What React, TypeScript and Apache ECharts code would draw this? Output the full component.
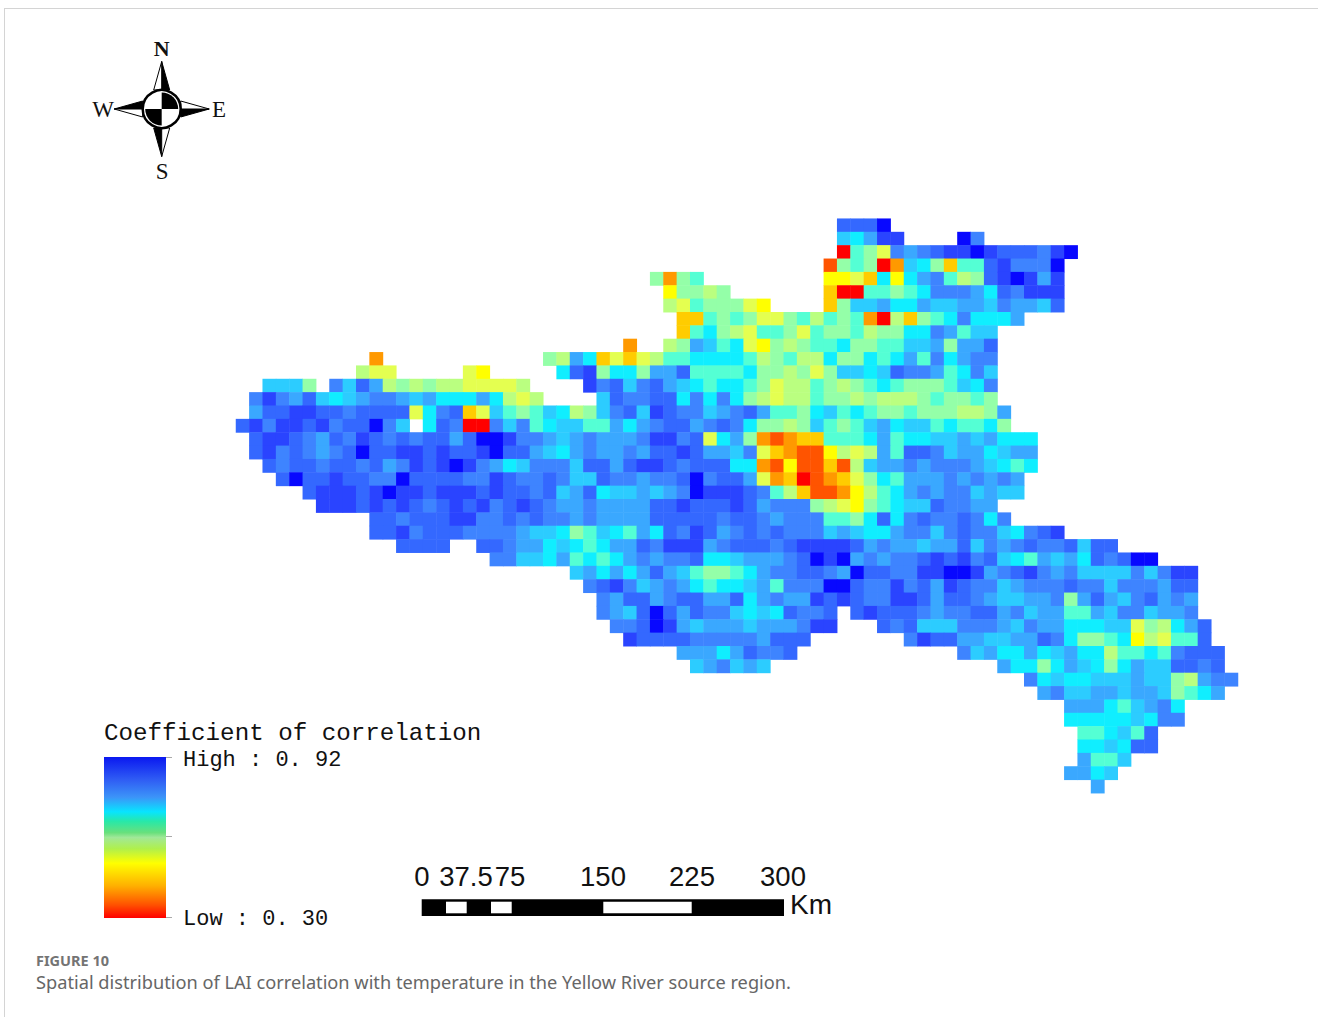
import React, { useEffect, useRef } from "react";
import * as echarts from "echarts";

// Cell codes run from the highest correlation (A) to the lowest (P); "." is no data.
const levelCodes = "ABCDEFGHIJKLMNOP";
const levelValues = [0.92, 0.879, 0.837, 0.796, 0.755, 0.713, 0.672, 0.631, 0.589, 0.548, 0.507, 0.465, 0.424, 0.383, 0.341, 0.3];
const cellColors = ["#ff0000", "#ff5500", "#ff9900", "#ffcc00", "#ffff00", "#e4ff50", "#baff80", "#94ffa8", "#55ffd4", "#10eeff", "#2cccff", "#3aa8ff", "#3e84ff", "#3468ff", "#2a44ff", "#0808ff"];

const rowStart = [45, 45, 45, 44, 31, 32, 32, 33, 33, 29, 10, 9, 2, 1, 1, 0, 1, 1, 2, 3, 5, 6, 10, 10, 12, 19, 25, 26, 27, 27, 28, 29, 33, 34, 59, 60, 62, 62, 63, 63, 63, 62, 64];
const rowCells = [
  "CCCA",
  "FGEBB....AD",
  "PHIKDEDCBBABCCCDBA",
  "OIHIPNFGIMHHCBDDDA",
  "INIH.........LLKMGLGEDHJICBABEB",
  "LIIJI.......MPPHHIHGDDDEGCDBBB",
  "JKHIIIKL....MIFFEGGEFFEEFDEEFC",
  "MMHIHIKKIHJHIHNPJMIHGDGGGE",
  "MHGIJKHHIKHIIHJIIGGDEHFF",
  "N..JIEFHGKLIJIHHGIIHHFFEIEEC",
  "N............IJEGMKMKJHHGGGGHJIHJJGIIGHGEHDGEDD",
  "JKK.....KL.....GCBIGGIEECHHHHGIIJIKIFFGFCDDEHGDF",
  "FFFI.DFCEJIJIJJKKKKJ....BDCFDCEFGHGGHIKJJHIJIHGHIIIHFGD",
  "DBDECFGFEDDEFEGGGEGJKJ....FCDDCCGDGDGIJKJJHIIJIJJJIHIIHI",
  "ECCBBCCDCCCCKGDCMKFHIHFGJIFDCFBCDDFEDCEHHIGFHGHIIHIIIJJIE",
  "CBDBBCBDCCADF.GCDPPDFDHGFFHHEGEDCCEDCDGIIJIFHIHFEGFFHGHHGI",
  "CBBCDECDBCDCDCCECAABDDEFEDEEEDBBDCKGEINONMMHHHGEHGGFFEFEGGG",
  "CBDCDEDCACCBBCBCCBACCEFGEDEEDECCBCEEFDKMNOOLJKJEHCCDFEEGFEE",
  "CDCCDCCDCEDBCBABDEGFDDDFCCECBBCDCCCGGNOLOOMOJFEEDEDDDEFGHG",
  "CACCBCCDDACCCCDDBCDDCDFFCDDEDDCADCCEKNMPONMKIGHEEEDEDEDE",
  "CBBBCBABBCBBBCBCCDCFECGFFEFEDABBBCDHJMOONLJHGEDEDDFEFF",
  "BBBCBCBCDCBCBDCBCDEEDEEEECCBCCCBCEDDDIJKLIHGFFCDDEE",
  "CCDCCCBBDDCDCDDEDEEEECCCCCDCCDEDDDHHIGCGDCDDCDGD",
  "CCBDCCCDDDDEFFGIHFGHEGCDBCEDCDCDDDFEFGGEDDFDCDDFGDCB",
  "CCCC..CCDEEGFGHGEECDBBBEDCCCDCBBBBCEDEEFEECFDEDCDDCFCC",
  "DDFFGEHGHGEDEDDCGGFEEEDCABAEDEDDCBCBDCFGHEFEGCDCAA",
  "FEGEGECEFHIIHGEDDCCDEACCDDBBAABEDCBDEDFFFFDFDBB",
  "DCBDFEDEGHGGFEHDDDAACDDBDCEBCDDFEDDDCDDFDDDECC",
  "DECCEDCCEECGEDEEBCBCDDBBCECCDEFFEEDIECEFDCEDE",
  "DEFCACECDDFGFGCDDC.CBCCCDEDDCCEDFEEHHEFDDFEED",
  "DDCABEFEEEFEEEDBB...CDCFFFDDDEFDEEGGGFFKIJGEC",
  "BCCCCDDDDDECCC.......DBCCEEFFEECDGIIHGLJKHHC",
  "EEEGECDDC............DFEGGEGFEGGJHHGHDCCC",
  "FEDFEF.................EGGIGEFGIGEFFCCDC",
  "DGFGGFFFEFFIJEDD",
  "EDFFEEFEEFIHGE",
  "EEEGHFEDG",
  "GGGGGFGDD",
  "HHGFHC",
  "GGFGCC",
  "EHHF",
  "EEGF",
  "E",
];

const legendTitle = "Coefficient of correlation";
const legendHigh = "High : 0. 92";
const legendLow = "Low : 0. 30";
const scaleLabels = ["0", "37.5", "75", "150", "225", "300"];
const scaleLabelX = [422, 466, 510, 603, 692, 783];
const scaleUnit = "Km";
const figureLabel = "FIGURE 10";
const figureCaption = "Spatial distribution of LAI correlation with temperature in the Yellow River source region.";

const columns = Array.from({ length: 75 }, (_, i) => String(i));
const rowNames = rowCells.map((_, i) => String(i));

const heatData: number[][] = [];
rowCells.forEach((cells, r) => {
  Array.from(cells).forEach((code, i) => {
    const level = levelCodes.indexOf(code);
    if (level >= 0) heatData.push([rowStart[r] + i, r, levelValues[level]]);
  });
});

const serif = "'Liberation Serif', serif";
const sans = "'Liberation Sans', sans-serif";
const mono = "'Liberation Mono', monospace";

function txt(x: number, y: number, text: string, font: string, size: number, extra: any = {}) {
  return {
    type: "text",
    x,
    y,
    silent: true,
    style: { text, font: `${extra.weight || "normal"} ${size}px ${font}`, fill: extra.fill || "#111", align: extra.align || "left", verticalAlign: "middle" },
  };
}

function poly(points: number[][], fill: string) {
  return { type: "polygon", silent: true, shape: { points }, style: { fill, stroke: "#000", lineWidth: 1 } };
}

function compass(cx: number, cy: number) {
  const armBase = 19;
  const tip = 47.5;
  const half = 8;
  const arm = (dx: number, dy: number) => {
    const px = -dy;
    const py = dx;
    const t = [cx + dx * tip, cy + dy * tip];
    const c = [cx + dx * armBase, cy + dy * armBase];
    return [
      poly([t, c, [c[0] + px * half, c[1] + py * half]], "#000"),
      poly([t, c, [c[0] - px * half, c[1] - py * half]], "#fff"),
    ];
  };
  return [
    ...arm(0, -1),
    ...arm(1, 0),
    ...arm(0, 1),
    ...arm(-1, 0),
    { type: "circle", silent: true, shape: { cx, cy, r: 19 }, style: { fill: "#fff", stroke: "#000", lineWidth: 2.5 } },
    { type: "sector", silent: true, shape: { cx, cy, r: 16.5, r0: 0, startAngle: -Math.PI / 2, endAngle: 0 }, style: { fill: "#000" } },
    { type: "sector", silent: true, shape: { cx, cy, r: 16.5, r0: 0, startAngle: Math.PI / 2, endAngle: Math.PI }, style: { fill: "#000" } },
    txt(cx, 48, "N", serif, 22, { align: "center", weight: "bold" }),
    txt(103, cy + 0.5, "W", serif, 23, { align: "center" }),
    txt(219, cy + 0.5, "E", serif, 23, { align: "center" }),
    txt(cx + 0.5, 171, "S", serif, 23, { align: "center" }),
  ];
}

function rect(x: number, y: number, width: number, height: number, fill: any) {
  return { type: "rect", silent: true, shape: { x, y, width, height }, style: { fill } };
}

function line(x1: number, y1: number, x2: number, y2: number, stroke: string, lineWidth = 1) {
  return { type: "line", silent: true, shape: { x1, y1, x2, y2 }, style: { stroke, lineWidth } };
}

const legendGradient = new echarts.graphic.LinearGradient(0, 0, 0, 1, [
  { offset: 0, color: "#0a18f0" },
  { offset: 0.14, color: "#2f5cf4" },
  { offset: 0.25, color: "#3c94f8" },
  { offset: 0.34, color: "#08e4ff" },
  { offset: 0.4, color: "#28e8a8" },
  { offset: 0.47, color: "#68e07c" },
  { offset: 0.5, color: "#a0e898" },
  { offset: 0.57, color: "#b0f04c" },
  { offset: 0.66, color: "#ffff00" },
  { offset: 0.8, color: "#ffb000" },
  { offset: 0.92, color: "#ff5000" },
  { offset: 1, color: "#ff0000" },
]);

const graphics: any[] = [
  line(4, 8.5, 1318, 8.5, "#d4d4d4"),
  line(4.5, 8, 4.5, 1017, "#d4d4d4"),
  ...compass(161.7, 109),
  txt(104, 733, legendTitle, mono, 24.2),
  txt(183, 760, legendHigh, mono, 22),
  txt(183, 919, legendLow, mono, 22),
  rect(104, 757, 62, 161, legendGradient),
  line(166, 757.5, 172, 757.5, "#aaa"),
  line(166, 836.5, 172, 836.5, "#aaa"),
  line(166, 917.5, 172, 917.5, "#aaa"),
  rect(421.7, 899.3, 362.3, 16.7, "#000"),
  rect(446, 901.7, 20.7, 11.6, "#fff"),
  rect(491, 901.7, 20.7, 11.6, "#fff"),
  rect(603.3, 901.7, 88.4, 11.6, "#fff"),
  ...scaleLabels.map((s, i) => txt(scaleLabelX[i], 876.5, s, sans, 27.5, { align: "center" })),
  txt(790, 904.5, scaleUnit, sans, 28),
  txt(36, 959.5, figureLabel, "'Noto Sans', sans-serif", 14.5, { weight: "bold", fill: "#747474" }),
  txt(36, 982, figureCaption, "'Noto Sans', sans-serif", 18.22, { fill: "#666666" }),
];

export default function App() {
  const ref = useRef<HTMLDivElement>(null);
  useEffect(() => {
    const chart = echarts.init(ref.current!, undefined, { renderer: "svg" });
    chart.setOption({
      animation: false,
      backgroundColor: "#ffffff",
      grid: { left: 236, top: 218.7, width: 1002, height: 574.5 },
      xAxis: { type: "category", data: columns, show: false, splitArea: { show: false } },
      yAxis: { type: "category", data: rowNames, inverse: true, show: false, splitArea: { show: false } },
      visualMap: { show: false, min: 0.3, max: 0.92, dimension: 2, seriesIndex: 0, inRange: { color: cellColors } },
      series: [
        {
          type: "heatmap",
          data: heatData,
          progressive: 0,
          silent: true,
          itemStyle: { borderWidth: 0 },
          emphasis: { disabled: true },
        },
      ],
      graphic: graphics,
    });
    return () => chart.dispose();
  }, []);
  return <div ref={ref} style={{ position: "absolute", left: 0, top: 0, width: 1318, height: 1017 }} />;
}
